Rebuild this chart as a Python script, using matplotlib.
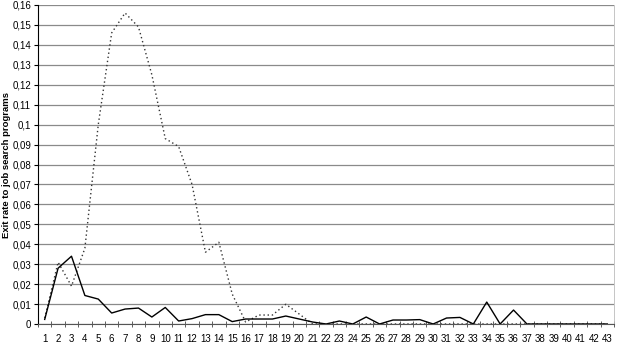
import matplotlib.pyplot as plt
import numpy as np

plt.rcParams['font.family'] = ['Liberation Sans', 'DejaVu Sans']

months = list(range(1, 44))
solid_rate = [0.0023, 0.028, 0.034, 0.0143, 0.0125, 0.0055, 0.0075, 0.008, 0.0035, 0.0083,
              0.0015, 0.0027, 0.0047, 0.0047, 0.0012, 0.0025, 0.0025, 0.0025, 0.004, 0.0025,
              0.001, 0.0, 0.0015, 0.0, 0.0035, 0.0, 0.002, 0.002, 0.0022, 0.0,
              0.003, 0.0033, 0.0, 0.011, 0.0, 0.007, 0.0, 0.0, 0.0, 0.0,
              0.0, 0.0, 0.0]
dotted_rate = [0.003, 0.031, 0.019, 0.038, 0.1, 0.146, 0.156, 0.149, 0.125, 0.093,
               0.089, 0.07, 0.036, 0.041, 0.015, 0.001, 0.0045, 0.0045, 0.0099, 0.005,
               0.0, 0.0, 0.0, 0.0, 0.0, 0.0, 0.0, 0.0, 0.0, 0.0,
               0.0, 0.0, 0.0, 0.0, 0.0, 0.0, 0.0, 0.0, 0.0, 0.0,
               0.0, 0.0, 0.0]
y_ticks = [i / 100 for i in range(17)]
y_labels = ['0'] + [('%g' % v).replace('.', ',') for v in y_ticks[1:]]

W, H = 618, 347
fig = plt.figure(figsize=(W / 100, H / 100), dpi=100)
ax = fig.add_axes([38 / W, (H - 324) / H, (614 - 38) / W, (324 - 5) / H])

x = np.arange(len(months))
ax.plot(x, dotted_rate, color='#333333', linestyle=(0, (1, 2)), linewidth=1.0)
ax.plot(x, solid_rate, color='black', linewidth=1.0)

ax.set_xlim(-0.5, len(months) - 0.5)
ax.set_ylim(0, 0.16)
ax.set_xticks(x)
ax.set_xticklabels([str(m) for m in months], fontsize=7)
ax.set_xticks(np.arange(-0.5, len(months), 1), minor=True)
ax.tick_params(axis='x', which='major', length=0, pad=7)
ax.tick_params(axis='x', which='minor', length=4, direction='inout', color='#444444')
ax.set_yticks(y_ticks)
ax.set_yticklabels(y_labels, fontsize=7)
ax.tick_params(axis='y', length=3, direction='out', pad=2)

ax.grid(axis='y', color='#8a8a8a', linewidth=0.9)
ax.set_axisbelow(True)
ax.set_ylabel('Exit rate to job search programs', fontsize=6.8, fontweight='bold')
ax.yaxis.set_label_coords(-0.047, 0.5)

ax.spines['left'].set_color('black')
ax.spines['bottom'].set_color('#555555')
ax.spines['top'].set_visible(False)
ax.spines['right'].set_color('#bbbbbb')
ax.spines['right'].set_linewidth(0.6)

fig.savefig('out.png', dpi=100)
